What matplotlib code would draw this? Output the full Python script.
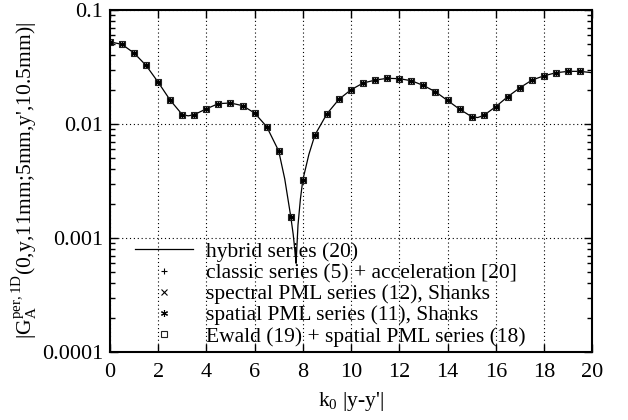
import numpy as np
import matplotlib.pyplot as plt
from matplotlib.ticker import NullFormatter, LogLocator

plt.rcParams['font.family'] = ['Liberation Serif', 'DejaVu Serif']
plt.rcParams['mathtext.fontset'] = 'custom'
plt.rcParams['mathtext.rm'] = 'Liberation Serif'
plt.rcParams['mathtext.it'] = 'Liberation Serif:italic'

# sample points (every 0.5 in k0|y-y'|)
x_pts = np.arange(0, 20, 0.5)
g_pts = [0.0527, 0.0500, 0.0420, 0.0327, 0.0233, 0.0162, 0.0121, 0.0121,
         0.0136, 0.0151, 0.0153, 0.0145, 0.0125, 0.0095, 0.0058, 0.00154,
         0.00323, 0.0080, 0.0123, 0.0165, 0.0200, 0.0229, 0.0243, 0.0252,
         0.0250, 0.0240, 0.0218, 0.0192, 0.0161, 0.0135, 0.0116, 0.0119,
         0.0142, 0.0174, 0.0208, 0.0243, 0.0265, 0.0282, 0.0290, 0.0290]

# hybrid series curve, with extra readings around the dip
x_line = [0, 0.5, 1, 1.5, 2, 2.5, 3, 3.25, 3.5, 4, 4.5, 5, 5.5, 6, 6.5, 7, 7.25,
          7.5, 7.6, 7.7, 7.72, 7.8, 7.9, 8, 8.25, 8.5, 9, 9.5, 10, 10.5, 11,
          11.5, 12, 12.5, 13, 13.5, 14, 14.5, 15, 15.25, 15.5, 16, 16.5, 17,
          17.5, 18, 18.5, 19, 19.5, 20]
g_line = [0.0527, 0.0500, 0.0420, 0.0327, 0.0233, 0.0162, 0.0121, 0.0118,
          0.0121, 0.0136, 0.0151, 0.0153, 0.0145, 0.0125, 0.0095, 0.0058,
          0.0033, 0.00154, 0.00108, 0.00068, 0.00060, 0.0013, 0.0022,
          0.00323, 0.0054, 0.0080, 0.0123, 0.0165, 0.0200, 0.0229, 0.0243,
          0.0252, 0.0250, 0.0240, 0.0218, 0.0192, 0.0161, 0.0135, 0.0116,
          0.0114, 0.0119, 0.0142, 0.0174, 0.0208, 0.0243, 0.0265, 0.0282,
          0.0290, 0.0290, 0.0282]

labels = ['hybrid series (20)',
          'classic series (5) + acceleration [20]',
          'spectral PML series (12), Shanks',
          'spatial PML series (11), Shanks',
          'Ewald (19) + spatial PML series (18)']

fig = plt.figure(figsize=(6.28, 4.2), dpi=100)
ax = fig.add_axes([0.175, 0.162, 0.768, 0.814])

ax.plot(x_line, g_line, color='black', lw=0.9, label=labels[0])
asterisk = (6, 2, 0)
ax.plot(x_pts, g_pts, ls='none', marker='+', ms=5, mew=0.8, color='black', label=labels[1])
ax.plot(x_pts, g_pts, ls='none', marker='x', ms=4, mew=0.8, color='black', label=labels[2])
ax.plot(x_pts, g_pts, ls='none', marker=asterisk, ms=5, mew=0.8, color='black', label=labels[3])
ax.plot(x_pts, g_pts, ls='none', marker='s', ms=5, mew=0.8, mfc='none',
        mec='#222222', label=labels[4])

ax.set_yscale('log')
ax.set_xlim(0, 20)
ax.set_ylim(1e-4, 0.1)
ax.set_xticks(np.arange(0, 21, 2))
ax.set_yticks([1e-4, 1e-3, 1e-2, 1e-1])
ax.set_yticklabels(['0.0001', '0.001', '0.01', '0.1'])
ax.yaxis.set_minor_locator(LogLocator(base=10, subs=np.arange(2, 10)))
ax.yaxis.set_minor_formatter(NullFormatter())

ax.grid(True, which='major', color='black', ls=(0, (1, 2.5)), lw=0.8)
ax.tick_params(which='both', direction='in', top=True, right=True, labelsize=16)
ax.tick_params(which='major', length=6, width=1)
ax.tick_params(which='minor', length=3.5, width=1)
ax.tick_params(axis='x', pad=8)
ax.tick_params(axis='y', pad=5)
for s in ax.spines.values():
    s.set_linewidth(1.5)

ax.set_xlabel(r"k$_\mathrm{0}$ |y-y'|", fontsize=15.5, labelpad=6)
ax.set_ylabel(r"|G$_\mathrm{A}^\mathrm{per,1D}$(0,y,11mm;5mm,y',10.5mm)|",
              fontsize=15.5, labelpad=1)

leg = ax.legend(loc='upper left', bbox_to_anchor=(0.052, 0.322), frameon=False,
                fontsize=15.5, handlelength=2.7, handletextpad=0.6,
                labelspacing=0.05, borderaxespad=0, borderpad=0)

fig.savefig('out.png', dpi=100)
